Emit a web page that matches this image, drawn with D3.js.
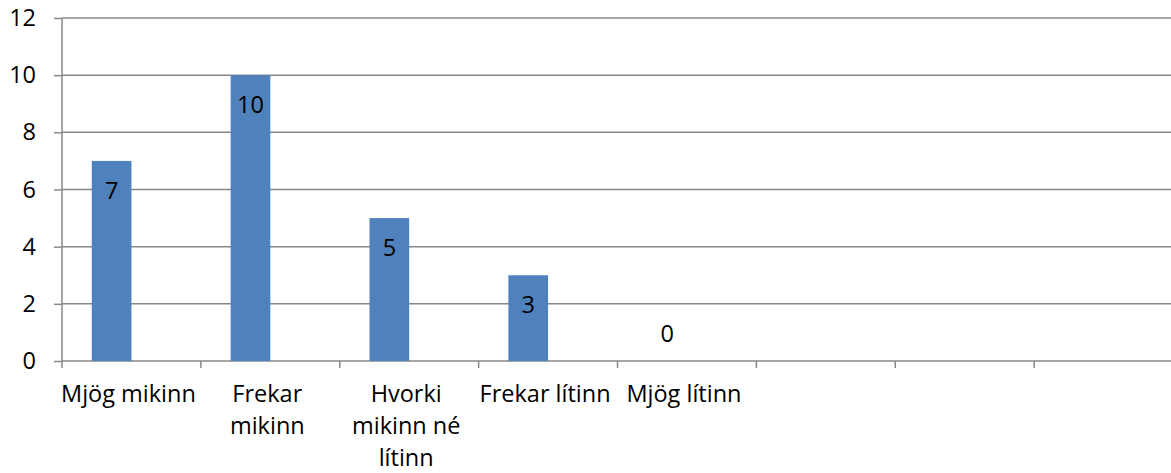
<!DOCTYPE html>
<html>
<head>
<meta charset="utf-8">
<script src="https://cdn.jsdelivr.net/npm/d3@7"></script>
<style>
  body { margin: 0; background: #fff; }
  text { font-family: "Open Sans", "Noto Sans", sans-serif; fill: #000; }
</style>
</head>
<body>
<div id="chart"></div>
<script>
// categories (line breaks as shown in the chart), blank slots are empty categories
var categories = ["Mjög mikinn", "Frekar\nmikinn", "Hvorki\nmikinn né\nlítinn", "Frekar lítinn", "Mjög lítinn", "", "", ""];
var values = [7, 10, 5, 3, 0, null, null, null];
var series = ["s1", "s2"];
var yTicks = [0, 2, 4, 6, 8, 10, 12];

var width = 1171, height = 473;
var margin = {top: 18, right: -2, bottom: 112, left: 62};
var fontSize = "23.5px";

var svg = d3.select("#chart").append("svg")
	.attr("width", width)
	.attr("height", height);

var x0 = d3.scaleBand()
	.domain(d3.range(categories.length))
	.range([margin.left, width - margin.right])
	.padding(0);

// two series per category, the second one is empty (Excel layout)
var x1 = d3.scaleBand()
	.domain(series)
	.range([0, x0.bandwidth()])
	.paddingInner(0)
	.paddingOuter(0.75);

var y = d3.scaleLinear()
	.domain([0, 12])
	.range([height - margin.bottom, margin.top]);

var grey = "#888";

// gridlines
svg.append("g")
	.selectAll("line")
	.data(yTicks.filter(function(d) { return d > 0; }))
	.enter().append("line")
	.attr("x1", margin.left)
	.attr("x2", width)
	.attr("y1", function(d) { return y(d); })
	.attr("y2", function(d) { return y(d); })
	.attr("stroke", grey)
	.attr("stroke-width", 1.5);

// y axis
var yAxis = svg.append("g")
	.attr("transform", "translate(" + margin.left + ",0)")
	.call(d3.axisLeft(y).tickValues(yTicks).tickSize(8).tickPadding(18));
yAxis.selectAll("line, path").attr("stroke", grey).attr("stroke-width", 1.5);
yAxis.select("path").attr("d", "M0," + y(0) + "V" + y(12));
yAxis.selectAll("text").style("font-size", fontSize).style("font-family", "'Open Sans', sans-serif");

// x axis
var xTickPos = d3.range(categories.length + 1).map(function(i) { return margin.left + i * x0.step(); });
svg.append("line")
	.attr("x1", margin.left).attr("x2", width)
	.attr("y1", y(0)).attr("y2", y(0))
	.attr("stroke", grey).attr("stroke-width", 1.5);
svg.append("g")
	.selectAll("line")
	.data(xTickPos)
	.enter().append("line")
	.attr("x1", function(d) { return d; })
	.attr("x2", function(d) { return d; })
	.attr("y1", y(0))
	.attr("y2", y(0) + 7)
	.attr("stroke", grey)
	.attr("stroke-width", 1.5);

// bars
var barData = values.map(function(v, i) { return {i: i, v: v}; }).filter(function(d) { return d.v != null; });

svg.append("g")
	.selectAll("rect")
	.data(barData)
	.enter().append("rect")
	.attr("x", function(d) { return x0(d.i) + x1("s1"); })
	.attr("width", x1.bandwidth())
	.attr("y", function(d) { return y(d.v); })
	.attr("height", function(d) { return y(0) - y(d.v); })
	.attr("fill", "#4f81bd");

// data labels, inside end (zero sits above the axis)
svg.append("g")
	.selectAll("text")
	.data(barData)
	.enter().append("text")
	.attr("x", function(d) { return x0(d.i) + x1("s1") + x1.bandwidth() / 2; })
	.attr("y", function(d) { return d.v > 0 ? y(d.v) + 38 : y(0) - 19; })
	.attr("text-anchor", "middle")
	.style("font-size", fontSize)
	.text(function(d) { return d.v; });

// category labels
var labels = svg.append("g")
	.selectAll("text")
	.data(categories)
	.enter().append("text")
	.attr("text-anchor", "middle")
	.style("font-size", fontSize)
	.attr("transform", function(d, i) { return "translate(" + (x0(i) + x0.bandwidth() / 2 - 3) + "," + (y(0) + 41) + ")"; });

labels.selectAll("tspan")
	.data(function(d) { return d ? d.split("\n") : []; })
	.enter().append("tspan")
	.attr("x", 0)
	.attr("dy", function(d, j) { return j === 0 ? 0 : 32; })
	.text(function(d) { return d; });
</script>
</body>
</html>
